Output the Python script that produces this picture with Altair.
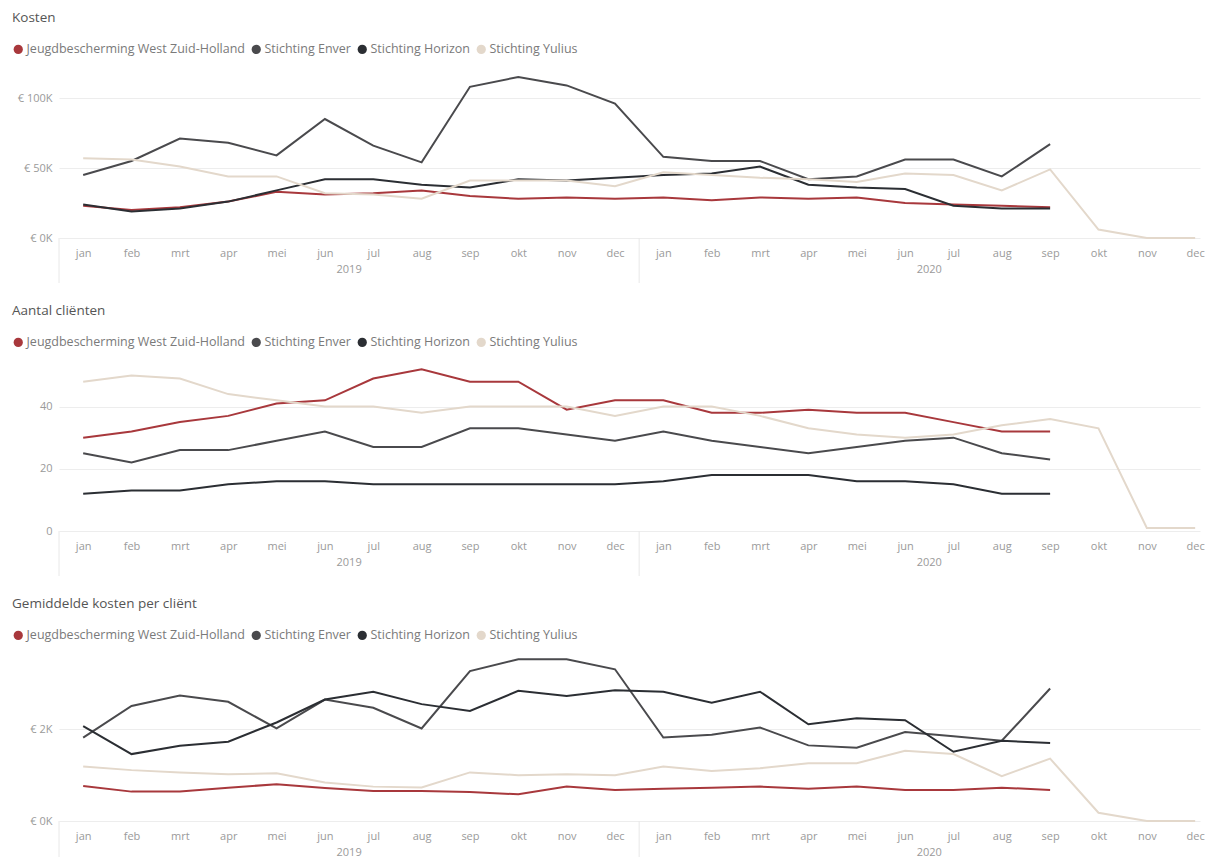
import altair as alt
import pandas as pd

months = ["jan", "feb", "mrt", "apr", "mei", "jun", "jul", "aug", "sep", "okt", "nov", "dec"]
years = ["2019", "2020"]
series = ["Jeugdbescherming West Zuid-Holland", "Stichting Enver", "Stichting Horizon", "Stichting Yulius"]
colors = ["#A8383C", "#4A4A4D", "#2B2E33", "#E3D8CB"]

# Kosten (EUR), monthly from jan 2019
kosten_jwzh = [23000, 20000, 22000, 26000, 33000, 31000, 32000, 34000, 30000, 28000, 29000, 28000,
               29000, 27000, 29000, 28000, 29000, 25000, 24000, 23000, 22000]
kosten_enver = [45000, 55000, 71000, 68000, 59000, 85000, 66000, 54000, 108000, 115000, 109000, 96000,
                58000, 55000, 55000, 42000, 44000, 56000, 56000, 44000, 67000]
kosten_horizon = [24000, 19000, 21000, 26000, 34000, 42000, 42000, 38000, 36000, 42000, 41000, 43000,
                  45000, 46000, 51000, 38000, 36000, 35000, 23000, 21000, 21000]
kosten_yulius = [57000, 56000, 51000, 44000, 44000, 32000, 31000, 28000, 41000, 41000, 41000, 37000,
                 47000, 45000, 43000, 42000, 40000, 46000, 45000, 34000, 49000, 6000, 0, 0]

# Aantal cliënten
clienten_jwzh = [30, 32, 35, 37, 41, 42, 49, 52, 48, 48, 39, 42, 42, 38, 38, 39, 38, 38, 35, 32, 32]
clienten_enver = [25, 22, 26, 26, 29, 32, 27, 27, 33, 33, 31, 29, 32, 29, 27, 25, 27, 29, 30, 25, 23]
clienten_horizon = [12, 13, 13, 15, 16, 16, 15, 15, 15, 15, 15, 15, 16, 18, 18, 18, 16, 16, 15, 12, 12]
clienten_yulius = [48, 50, 49, 44, 42, 40, 40, 38, 40, 40, 40, 37, 40, 40, 37, 33, 31, 30, 31, 34, 36, 33, 1, 1]

# Gemiddelde kosten per cliënt (EUR)
gem_jwzh = [763, 641, 641, 728, 800, 720, 654, 654, 633, 582, 750, 676,
            706, 728, 750, 706, 750, 676, 676, 728, 676]
gem_enver = [1820, 2510, 2740, 2600, 2020, 2650, 2470, 2020, 3270, 3530, 3530, 3310,
             1820, 1880, 2040, 1650, 1600, 1940, 1850, 1750, 2890]
gem_horizon = [2070, 1460, 1640, 1730, 2150, 2650, 2820, 2550, 2400, 2840, 2730, 2850,
               2820, 2580, 2820, 2110, 2240, 2200, 1510, 1750, 1700]
gem_yulius = [1190, 1110, 1060, 1020, 1040, 840, 750, 730, 1060, 1000, 1020, 1000,
              1190, 1090, 1150, 1260, 1260, 1530, 1460, 980, 1360, 180, 0, 0]

n_months = len(months) * len(years)


def long_df(lists):
    rows = []
    for name, vals in zip(series, lists):
        for i, v in enumerate(vals):
            rows.append({"idx": i, "series": name, "value": v})
    return pd.DataFrame(rows)


month_expr = "[" + ",".join("'%s'" % m for m in months) + "][datum.value % 12]"
sep_df = pd.DataFrame({"idx": [i * len(months) - 0.5 for i in range(len(years))]})
year_df = pd.DataFrame({"idx": [i * len(months) + (len(months) - 1) / 2 for i in range(len(years))],
                        "label": years})

FONT = "Open Sans"
LABEL = "#9A9A9A"


def panel(df, title, height, ydomain, yvalues, ylabel_expr, rule_len):
    xscale = alt.Scale(domain=[-0.5, n_months - 0.9], nice=False, zero=False)
    xaxis = alt.Axis(values=list(range(n_months)), labelExpr=month_expr, grid=False,
                     ticks=False, domain=False, labelColor=LABEL, labelFontSize=11,
                     labelPadding=9, labelOverlap=False, labelFlush=False, title=None,
                     labelFont=FONT)
    x = alt.X("idx:Q", scale=xscale, axis=xaxis)
    y = alt.Y("value:Q", scale=alt.Scale(domain=ydomain, nice=False),
              axis=alt.Axis(values=yvalues, labelExpr=ylabel_expr, grid=True, gridColor="#EDEDED",
                            ticks=False, domain=False, labelColor=LABEL, labelFontSize=11,
                            labelPadding=7, title=None, labelFont=FONT))
    legend = alt.Legend(orient="none", legendX=-47, legendY=-27, direction="horizontal", title=None,
                        symbolType="circle", symbolSize=85, symbolStrokeWidth=0, symbolOpacity=1,
                        labelFontSize=12.5, labelLimit=0, labelColor="#7A7A7A", labelFont=FONT,
                        columnPadding=5, labelOffset=2, padding=0)
    color = alt.Color("series:N", scale=alt.Scale(domain=series, range=colors), legend=legend)
    keys = alt.Chart(df).mark_point(filled=True, opacity=0).encode(x=x, y=y, color=color)
    lines = alt.Chart(df).mark_line().encode(x=x, y=y, color=color, order="idx:Q")
    rules = alt.Chart(sep_df).mark_rule(color="#E8E8E8", strokeWidth=1).encode(
        x=x, y=alt.value(height), y2=alt.value(height + rule_len),
    )
    yrs = alt.Chart(year_df).mark_text(fontSize=11, color=LABEL, font=FONT, baseline="middle").encode(
        x=x, y=alt.value(height + 32), text="label:N",
    )
    return alt.layer(keys, lines, rules, yrs).properties(
        width=1141, height=height,
        title=alt.TitleParams(title, anchor="start", fontSize=13.5, fontWeight="normal",
                              color="#555555", font=FONT, offset=19),
    )


p1 = panel(long_df([kosten_jwzh, kosten_enver, kosten_horizon, kosten_yulius]), "Kosten",
           168, [0, 120000], [0, 50000, 100000],
           "'€ ' + format(datum.value / 1000, 'd') + 'K'", 45)
p2 = panel(long_df([clienten_jwzh, clienten_enver, clienten_horizon, clienten_yulius]), "Aantal cliënten",
           168, [0, 54], [0, 20, 40], "format(datum.value, 'd')", 45)
p3 = panel(long_df([gem_jwzh, gem_enver, gem_horizon, gem_yulius]), "Gemiddelde kosten per cliënt",
           165, [0, 3600], [0, 2000], "'€ ' + format(datum.value / 1000, 'd') + 'K'", 36)

chart = alt.vconcat(p1, p2, p3, spacing=19).resolve_scale(
    color="independent", x="independent", y="independent"
).properties(
    padding={"left": 4, "top": 2, "right": 0, "bottom": 0}
).configure(font=FONT).configure_view(stroke="transparent", strokeWidth=0)

chart.save("out.html", embed_options={"renderer": "svg", "actions": False})
